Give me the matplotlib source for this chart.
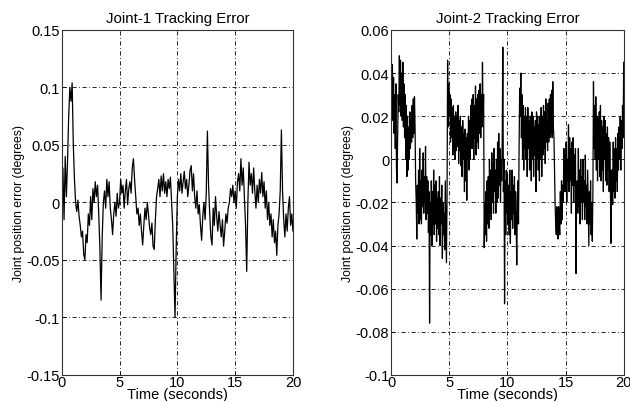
import matplotlib
matplotlib.use('Agg')
import matplotlib.pyplot as plt
import numpy as np

plt.rcParams['font.family'] = ['Liberation Sans', 'DejaVu Sans']

# joint 1 sampled every 0.1 s, joint 2 every 0.05 s (0..20 s)
joint1_err = [
    0.0, 0.03, -0.015, 0.04, 0.005, 0.035, 0.075, 0.1, 0.088, 0.104,
    0.05, 0.02, 0.0, -0.008, 0.002, -0.012, -0.02, -0.03, -0.025, -0.045,
    -0.05, -0.028, -0.035, -0.01, -0.02, 0.005, -0.015, 0.012, 0.0, 0.018,
    0.005, 0.015, -0.01, -0.04, -0.085, -0.03, 0.0, 0.01, -0.005, 0.02,
    0.005, 0.018, -0.005, -0.015, -0.028, -0.01, 0.0, -0.012, 0.008, -0.005,
    0.0, 0.02, 0.008, 0.015, -0.005, 0.01, 0.02, -0.002, 0.012, 0.018,
    0.008, 0.03, 0.038, 0.02, 0.005, -0.01, -0.005, -0.02, -0.01, -0.025,
    -0.037, -0.02, -0.005, -0.015, 0.0, -0.01, -0.022, -0.028, -0.018, -0.038,
    -0.041, -0.015, 0.005, 0.012, 0.02, 0.005, 0.023, 0.01, 0.025, 0.008,
    0.018, 0.005, 0.02, 0.012, 0.022, 0.0, -0.02, -0.06, -0.1, -0.04,
    0.005, 0.02, 0.01, 0.025, 0.008, 0.018, 0.027, 0.012, 0.02, 0.005,
    0.015, 0.028, 0.032, 0.01, 0.025, 0.005, -0.005, 0.01, -0.01, -0.002,
    -0.02, -0.033, -0.012, 0.0, -0.015, 0.008, 0.062, 0.015, -0.01, -0.03,
    -0.037, -0.005, -0.02, 0.005, -0.012, -0.025, -0.008, -0.02, -0.03, -0.015,
    -0.038, -0.025, -0.01, -0.018, -0.005, 0.0, 0.012, 0.005, 0.015, 0.0,
    0.01, -0.005, 0.018, 0.025, 0.01, 0.038, 0.015, 0.03, 0.005, -0.02,
    -0.06, 0.0, 0.035, 0.015, 0.025, 0.008, 0.03, 0.01, -0.005, 0.015,
    0.0, 0.02, 0.008, 0.026, 0.005, 0.018, -0.005, 0.01, -0.015, 0.0,
    -0.02, -0.01, -0.03, -0.015, -0.035, -0.025, -0.046, -0.02, -0.01, 0.01,
    0.063, 0.01, -0.015, -0.03, -0.01, -0.025, -0.005, 0.005, -0.02, -0.01,
    -0.025,
]

joint2_err = [
    0.04, 0.025, 0.044, 0.018, 0.038, 0.012, 0.03, 0.005, 0.035, -0.005,
    -0.011, 0.01, 0.03, 0.022, 0.048, 0.025, 0.046, 0.02, 0.04, 0.018,
    0.045, 0.015, 0.035, 0.01, 0.03, 0.0, 0.025, -0.008, 0.02, -0.005,
    0.015, 0.0, 0.022, 0.005, 0.018, 0.008, 0.025, 0.01, 0.028, 0.012,
    0.029, 0.015, -0.01, -0.02, -0.037, -0.012, -0.025, -0.005, -0.03, 0.005,
    -0.028, -0.01, -0.03, -0.005, -0.022, 0.003, -0.025, -0.008, -0.02, 0.006,
    -0.028, -0.008, -0.025, -0.01, -0.034, -0.015, -0.076, -0.02, -0.035, -0.01,
    -0.04, -0.015, -0.03, -0.005, -0.035, -0.012, -0.03, -0.01, -0.038, -0.018,
    -0.032, -0.015, -0.035, -0.008, -0.04, -0.018, -0.03, -0.012, -0.046, -0.02,
    -0.035, -0.025, -0.042, -0.01, -0.03, -0.048, -0.02, 0.046, 0.015, 0.035,
    0.02, 0.03, 0.008, 0.028, 0.01, 0.024, 0.002, 0.025, 0.005, 0.02,
    0.0, 0.022, 0.004, 0.02, 0.006, 0.025, -0.002, 0.018, 0.004, 0.02,
    -0.003, 0.015, -0.008, 0.018, 0.0, 0.012, -0.015, 0.014, -0.01, 0.01,
    -0.019, 0.012, 0.0, 0.02, -0.005, 0.018, 0.0, 0.025, 0.005, 0.028,
    0.005, 0.03, 0.0, 0.025, 0.01, 0.034, 0.002, 0.028, 0.008, 0.03,
    0.005, 0.032, 0.012, 0.035, 0.01, 0.03, 0.015, 0.045, 0.02, 0.03,
    -0.041, -0.02, -0.035, -0.015, -0.038, -0.01, -0.03, -0.008, -0.032, 0.0,
    -0.025, -0.005, -0.028, 0.003, -0.02, -0.002, -0.025, 0.005, -0.015, -0.005,
    -0.025, 0.0, -0.02, 0.008, -0.018, 0.012, -0.012, 0.005, -0.02, 0.0,
    -0.01, 0.01, 0.052, -0.015, 0.0, -0.067, -0.01, -0.035, -0.005, -0.025,
    -0.007, -0.03, -0.012, -0.035, -0.005, -0.039, -0.015, -0.028, -0.005, -0.032,
    -0.012, -0.025, -0.008, -0.035, -0.015, -0.03, -0.049, -0.02, -0.01, -0.03,
    0.005, 0.033, 0.02, 0.04, 0.01, 0.03, 0.0, 0.025, -0.005, 0.02,
    0.005, 0.024, 0.0, 0.02, -0.008, 0.024, 0.005, 0.018, -0.005, 0.02,
    0.018, -0.01, 0.022, 0.0, 0.02, -0.008, 0.015, 0.002, 0.018, -0.015,
    0.022, 0.0, 0.02, -0.005, 0.016, -0.01, 0.02, 0.0, 0.024, -0.008,
    0.02, 0.002, 0.025, 0.005, 0.022, -0.002, 0.028, 0.008, 0.018, 0.004,
    0.026, 0.008, 0.028, 0.01, 0.03, 0.012, 0.032, 0.01, 0.036, 0.015,
    0.01, -0.005, -0.021, -0.03, -0.035, -0.022, -0.025, -0.037, -0.022, -0.03,
    -0.035, -0.015, -0.03, -0.01, -0.028, -0.012, -0.02, 0.005, -0.015, 0.002,
    -0.015, 0.008, -0.02, 0.0, -0.01, 0.016, -0.015, 0.01, -0.01, 0.005,
    -0.025, 0.008, -0.012, 0.01, -0.02, 0.002, -0.012, 0.005, -0.053, -0.015,
    -0.01, -0.025, 0.005, -0.022, -0.005, -0.03, 0.0, -0.02, -0.008, -0.028,
    0.0, -0.02, -0.01, -0.028, 0.002, -0.022, -0.012, -0.03, -0.005, -0.022,
    -0.04, -0.015, -0.03, -0.01, -0.035, -0.02, -0.038, -0.015, 0.036, 0.005,
    0.025, 0.0, 0.029, -0.005, 0.02, -0.01, 0.019, 0.0, 0.022, -0.008,
    0.025, -0.01, 0.018, -0.005, 0.015, -0.015, 0.02, 0.0, 0.018, -0.01,
    0.012, -0.012, 0.015, -0.005, 0.01, -0.015, 0.008, -0.01, -0.039, -0.005,
    -0.005, -0.021, 0.008, -0.015, 0.005, -0.018, 0.01, -0.01, 0.005, -0.015,
    0.012, -0.005, 0.015, 0.0, 0.02, -0.005, 0.018, 0.005, 0.025, 0.01,
    0.045,
]

t1 = np.arange(len(joint1_err)) * 0.1
t2 = np.arange(len(joint2_err)) * 0.05

x_ticks = [0, 5, 10, 15, 20]
y1_ticks = [-0.15, -0.1, -0.05, 0, 0.05, 0.1, 0.15]
y1_labels = ['-0.15', '-0.1', '-0.05', '0', '0.05', '0.1', '0.15']
y2_ticks = [-0.1, -0.08, -0.06, -0.04, -0.02, 0, 0.02, 0.04, 0.06]
y2_labels = ['-0.1', '-0.08', '-0.06', '-0.04', '-0.02', '0', '0.02', '0.04', '0.06']

fig = plt.figure(figsize=(6.3, 4.02), dpi=100)
ax1 = fig.add_axes([0.098, 0.065, 0.367, 0.858])
ax2 = fig.add_axes([0.621, 0.065, 0.369, 0.858])

panels = [
    (ax1, t1, joint1_err, 'Joint-1 Tracking Error', (-0.15, 0.15), y1_ticks, y1_labels),
    (ax2, t2, joint2_err, 'Joint-2 Tracking Error', (-0.1, 0.06), y2_ticks, y2_labels),
]

for ax, t, err, title, ylim, yt, yl in panels:
    ax.plot(t, err, color='black', linewidth=0.9)
    ax.set_xlim(0, 20)
    ax.set_ylim(*ylim)
    ax.set_xticks(x_ticks)
    ax.set_yticks(yt)
    ax.set_yticklabels(yl)
    ax.tick_params(direction='in', length=3, width=0.6, labelsize=10.5)
    ax.tick_params(axis='x', pad=0)
    ax.tick_params(axis='y', pad=1.5)
    ax.grid(True, color='black', linewidth=0.6, linestyle=(0, (5, 3, 1, 3)))
    for s in ax.spines.values():
        s.set_linewidth(0.8)
        s.set_color('#333333')
    ax.set_title(title, fontsize=10.8, pad=6)
    ax.set_xlabel('Time (seconds)', fontsize=10.5, labelpad=-1.5)
    ax.set_ylabel('Joint position error (degrees)', fontsize=8.8,
                  family=['Liberation Sans Narrow', 'Liberation Sans'], labelpad=1)

fig.savefig('out.png', dpi=100)
